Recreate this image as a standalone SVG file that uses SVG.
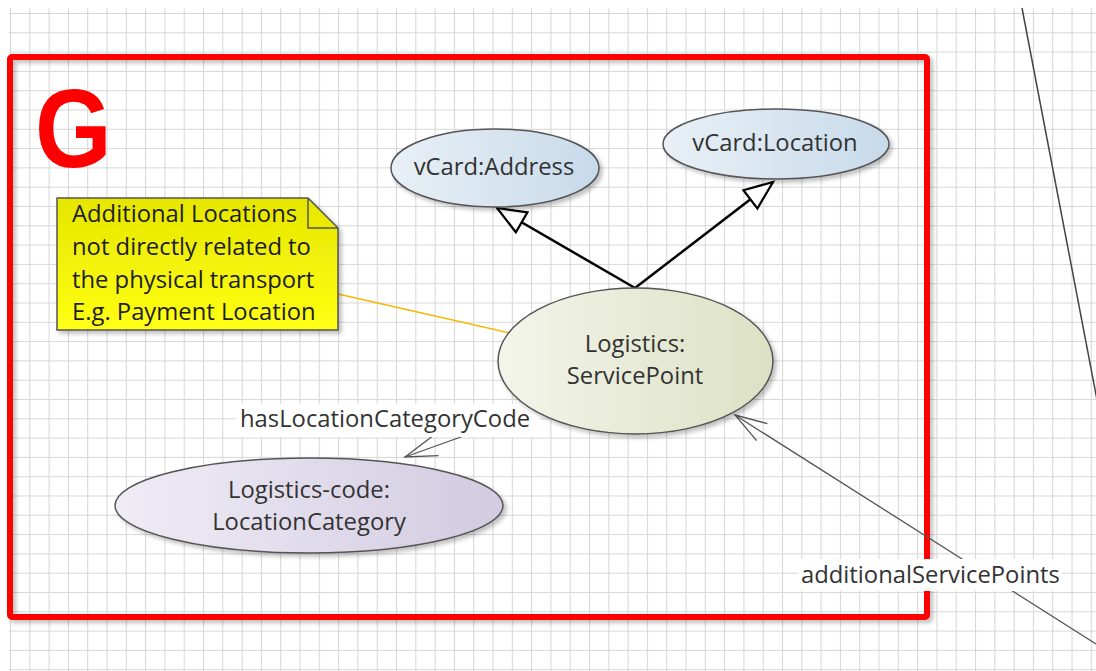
<svg xmlns="http://www.w3.org/2000/svg" width="1096" height="671" viewBox="0 0 1096 671">
<defs>
  <pattern id="grid" x="10" y="13" width="19.3" height="19.3" patternUnits="userSpaceOnUse">
    <path d="M0 0.5 H19.3 M0.5 0 V19.3" fill="none" stroke="#d6d6d6" stroke-width="1.1"/>
  </pattern>
  <linearGradient id="gBlue" x1="0" y1="0" x2="1" y2="0">
    <stop offset="0" stop-color="#e9f0f6"/>
    <stop offset="1" stop-color="#c7daea"/>
  </linearGradient>
  <linearGradient id="gGreen" x1="0" y1="0" x2="1" y2="0">
    <stop offset="0" stop-color="#f3f5ea"/>
    <stop offset="1" stop-color="#dce1c4"/>
  </linearGradient>
  <linearGradient id="gLav" x1="0" y1="0" x2="1" y2="0">
    <stop offset="0" stop-color="#efecf5"/>
    <stop offset="1" stop-color="#d2cbe1"/>
  </linearGradient>
  <linearGradient id="gYellow" x1="0" y1="0" x2="0" y2="1">
    <stop offset="0" stop-color="#e6e600"/>
    <stop offset="1" stop-color="#ffff14"/>
  </linearGradient>
  <filter id="shadow" x="-10%" y="-10%" width="125%" height="130%">
    <feGaussianBlur in="SourceAlpha" stdDeviation="2"/>
    <feOffset dx="3" dy="3" result="b"/>
    <feComponentTransfer><feFuncA type="linear" slope="0.25"/></feComponentTransfer>
    <feMerge><feMergeNode/><feMergeNode in="SourceGraphic"/></feMerge>
  </filter>
  <marker id="gen" markerUnits="userSpaceOnUse" markerWidth="34" markerHeight="28" refX="30" refY="13" orient="auto">
    <path d="M1.5 1.5 L30 13 L1.5 24.5 Z" fill="#ffffff" stroke="#000" stroke-width="2.2" stroke-linejoin="miter"/>
  </marker>
  <marker id="open" markerUnits="userSpaceOnUse" markerWidth="36" markerHeight="24" refX="33" refY="12" orient="auto">
    <path d="M1 2 L33 12 L1 22" fill="none" stroke="#555" stroke-width="1.3"/>
  </marker>
  <style>
    .lbl { font-family: "Open Sans", "Liberation Sans", sans-serif; font-size: 23.8px; fill: #333; }
    .ctr { text-anchor: middle; }
    .node { stroke: #555; stroke-width: 1.5; }
    .note { font-family: "Open Sans", "Liberation Sans", sans-serif; font-size: 23.8px; fill: #1e1e1e; }
    .assoc { fill: none; stroke: #555; stroke-width: 1.3; }
  </style>
</defs>

<rect width="1096" height="671" fill="#ffffff"/>
<rect x="9" y="8" width="1087" height="663" fill="url(#grid)"/>

<g id="frame-G">
  <rect x="10" y="57" width="917" height="560" rx="2" fill="none" stroke="#ff0000" stroke-width="6" filter="url(#shadow)"/>
  <text x="0" y="0" transform="translate(35,167) scale(0.88,1)" font-family="Liberation Sans, Arial, sans-serif" font-weight="bold" font-size="112" fill="#ff0000">G</text>
</g>

<g id="connectors">
  <line x1="635" y1="288" x2="497" y2="208" stroke="#000" stroke-width="2.5" marker-end="url(#gen)"/>
  <line x1="635" y1="288" x2="773" y2="182" stroke="#000" stroke-width="2.5" marker-end="url(#gen)"/>
  <line x1="338" y1="294" x2="510" y2="333" stroke="#f5b800" stroke-width="1.5"/>
  <line x1="536" y1="410" x2="405" y2="457" class="assoc" marker-end="url(#open)"/>
  <line x1="1096" y1="644" x2="735" y2="415" class="assoc" marker-end="url(#open)"/>
  <line x1="1022" y1="8" x2="1098" y2="405" stroke="#444" stroke-width="1.5"/>
  <g id="label-hasLocationCategoryCode">
    <rect x="236" y="404" width="304" height="33" fill="#ffffff"/>
    <text x="240" y="427" class="lbl">hasLocationCategoryCode</text>
  </g>
  <g id="label-additionalServicePoints">
    <rect x="798" y="559" width="264" height="32" fill="#ffffff"/>
    <text x="801" y="583" class="lbl">additionalServicePoints</text>
  </g>
</g>

<g id="vcard-address">
  <ellipse cx="495" cy="168" rx="104" ry="39" fill="url(#gBlue)" class="node" filter="url(#shadow)"/>
  <text x="494" y="175" class="lbl ctr">vCard:Address</text>
</g>

<g id="vcard-location">
  <ellipse cx="776" cy="144" rx="113" ry="35" fill="url(#gBlue)" class="node" filter="url(#shadow)"/>
  <text x="775" y="151" class="lbl ctr">vCard:Location</text>
</g>

<g id="logistics-servicepoint">
  <ellipse cx="635.5" cy="361" rx="137.5" ry="73" fill="url(#gGreen)" class="node" filter="url(#shadow)"/>
  <text x="635" y="352" class="lbl ctr">Logistics:</text>
  <text x="635" y="384" class="lbl ctr">ServicePoint</text>
</g>

<g id="logistics-code-locationcategory">
  <ellipse cx="309" cy="505.5" rx="194" ry="47.5" fill="url(#gLav)" class="node" filter="url(#shadow)"/>
  <text x="309" y="498" class="lbl ctr">Logistics-code:</text>
  <text x="309" y="530" class="lbl ctr">LocationCategory</text>
</g>

<g id="note">
  <path d="M57 198 H308 L338 228 V330 H57 Z" fill="url(#gYellow)" stroke="#555" stroke-width="1.5" filter="url(#shadow)"/>
  <path d="M308 198 V228 H338" fill="none" stroke="#555" stroke-width="1.5"/>
  <text x="72" y="222" class="note">Additional Locations</text>
  <text x="72" y="255" class="note">not directly related to</text>
  <text x="72" y="288" class="note">the physical transport</text>
  <text x="72" y="320" class="note">E.g. Payment Location</text>
</g>
</svg>
